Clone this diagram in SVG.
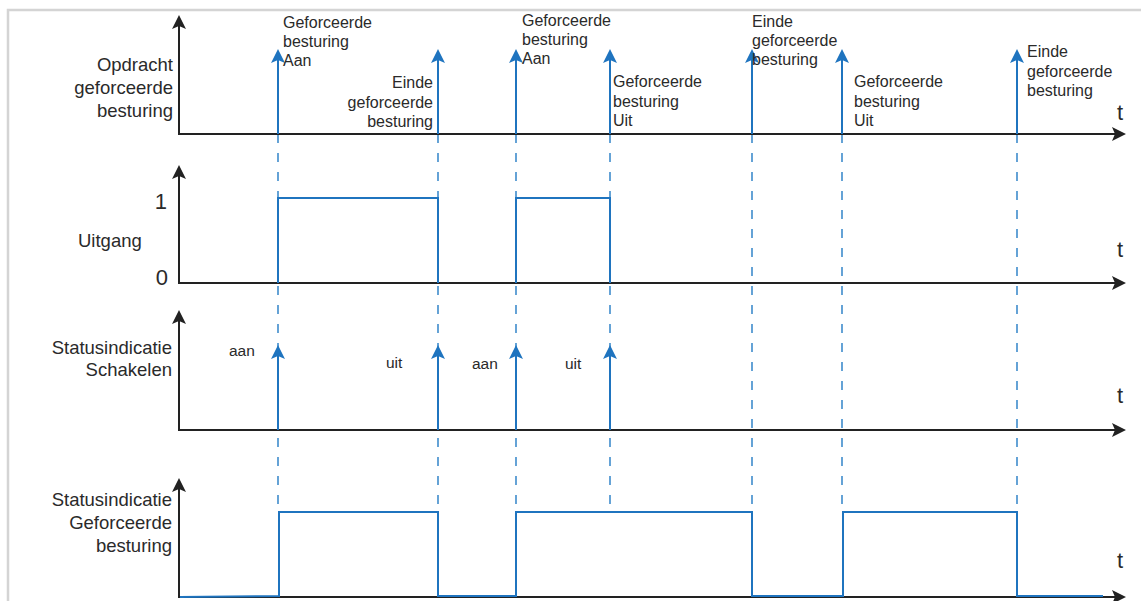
<svg xmlns="http://www.w3.org/2000/svg" width="1141" height="601" viewBox="0 0 1141 601">
<style>
text{font-family:"Liberation Sans",Arial,sans-serif;fill:#2a2a2a}
.lbl{font-size:18.5px}
.ev{font-size:16px}
.sm{font-size:15.5px}
.t{font-size:22px}
.num{font-size:22px}
.axis{stroke:#222;stroke-width:2;fill:none}
.sig{stroke:#1f74bf;stroke-width:2;fill:none}
.dash{stroke:#2a7fc6;stroke-width:1.6;stroke-dasharray:9 10;fill:none;opacity:0.9}
.ah{fill:#222}
.bh{fill:#1f74bf}
</style>
<defs>
<path id="up" d="M0,0 L7,14 L0,11 L-7,14 Z"/>
<path id="right" d="M0,0 L-14,7 L-11,0 L-14,-7 Z"/>
</defs>
<rect x="8" y="10" width="1200" height="700" fill="#fff" stroke="#d4d4d4" stroke-width="2.5"/>

<g id="connectors">
<g id="guides">
<line class="dash" x1="278" y1="134" x2="278" y2="512"/>
<line class="dash" x1="438" y1="134" x2="438" y2="512"/>
<line class="dash" x1="516" y1="134" x2="516" y2="512"/>
<line class="dash" x1="610" y1="134" x2="610" y2="512"/>
<line class="dash" x1="752" y1="134" x2="752" y2="512"/>
<line class="dash" x1="842" y1="134" x2="842" y2="512"/>
<line class="dash" x1="1017" y1="134" x2="1017" y2="512"/>
</g>
<g id="axes">
<line class="axis" x1="179" y1="20" x2="179" y2="134"/>
<line class="axis" x1="178" y1="134" x2="1115" y2="134"/>
<use href="#up" class="ah" x="179" y="15"/>
<use href="#right" class="ah" x="1126" y="134"/>
<line class="axis" x1="179" y1="170" x2="179" y2="283"/>
<line class="axis" x1="178" y1="283" x2="1115" y2="283"/>
<use href="#up" class="ah" x="179" y="165"/>
<use href="#right" class="ah" x="1126" y="283"/>
<line class="axis" x1="179" y1="315" x2="179" y2="430"/>
<line class="axis" x1="178" y1="430" x2="1115" y2="430"/>
<use href="#up" class="ah" x="179" y="310"/>
<use href="#right" class="ah" x="1126" y="430"/>
<line class="axis" x1="179" y1="483" x2="179" y2="597"/>
<line class="axis" x1="178" y1="597" x2="1115" y2="597"/>
<use href="#up" class="ah" x="179" y="478"/>
<use href="#right" class="ah" x="1126" y="597"/>
</g>
<g id="command-pulses">
<line class="sig" x1="278" y1="134" x2="278" y2="60"/>
<line class="sig" x1="438" y1="134" x2="438" y2="60"/>
<line class="sig" x1="516" y1="134" x2="516" y2="60"/>
<line class="sig" x1="610" y1="134" x2="610" y2="60"/>
<line class="sig" x1="752" y1="134" x2="752" y2="60"/>
<line class="sig" x1="842" y1="134" x2="842" y2="60"/>
<line class="sig" x1="1017" y1="134" x2="1017" y2="60"/>
<use href="#up" class="bh" x="278" y="49"/>
<use href="#up" class="bh" x="438" y="49"/>
<use href="#up" class="bh" x="516" y="49"/>
<use href="#up" class="bh" x="610" y="49"/>
<use href="#up" class="bh" x="752" y="49"/>
<use href="#up" class="bh" x="842" y="49"/>
<use href="#up" class="bh" x="1017" y="49"/>
</g>
<g id="output-signal">
<path class="sig" d="M278,283 L278,198 L438,198 L438,283 M516,283 L516,198 L610,198 L610,283"/>
</g>
<g id="switch-pulses">
<line class="sig" x1="278" y1="430" x2="278" y2="356"/>
<line class="sig" x1="438" y1="430" x2="438" y2="356"/>
<line class="sig" x1="516" y1="430" x2="516" y2="356"/>
<line class="sig" x1="610" y1="430" x2="610" y2="356"/>
<use href="#up" class="bh" x="278" y="345"/>
<use href="#up" class="bh" x="438" y="345"/>
<use href="#up" class="bh" x="516" y="345"/>
<use href="#up" class="bh" x="610" y="345"/>
</g>
<g id="forced-status-signal">
<path class="sig" d="M180,597 L279,596 L279,512 L438,512 L438,596 L516,596 L516,512 L752,512 L752,596 L843,596 L843,512 L1017,512 L1017,596 L1103,596"/>
</g>
</g>

<g id="panel-command">
<text class="lbl" text-anchor="end" x="173" y="71">Opdracht</text>
<text class="lbl" text-anchor="end" x="173" y="94">geforceerde</text>
<text class="lbl" text-anchor="end" x="173" y="117">besturing</text>
<text class="t" x="1117" y="120">t</text>
</g>
<g id="event-1"><text class="ev" x="283" y="28">Geforceerde</text><text class="ev" x="283" y="47">besturing</text><text class="ev" x="283" y="66">Aan</text></g>
<g id="event-2"><text class="ev" text-anchor="end" x="433" y="88">Einde</text><text class="ev" text-anchor="end" x="433" y="108">geforceerde</text><text class="ev" text-anchor="end" x="433" y="127">besturing</text></g>
<g id="event-3"><text class="ev" x="522" y="26">Geforceerde</text><text class="ev" x="522" y="45">besturing</text><text class="ev" x="522" y="64">Aan</text></g>
<g id="event-4"><text class="ev" x="613" y="87">Geforceerde</text><text class="ev" x="613" y="107">besturing</text><text class="ev" x="613" y="126">Uit</text></g>
<g id="event-5"><text class="ev" x="752" y="27">Einde</text><text class="ev" x="752" y="46">geforceerde</text><text class="ev" x="752" y="65">besturing</text></g>
<g id="event-6"><text class="ev" x="854" y="87">Geforceerde</text><text class="ev" x="854" y="107">besturing</text><text class="ev" x="854" y="126">Uit</text></g>
<g id="event-7"><text class="ev" x="1027" y="57">Einde</text><text class="ev" x="1027" y="77">geforceerde</text><text class="ev" x="1027" y="96">besturing</text></g>

<g id="panel-output">
<text class="lbl" x="78" y="247">Uitgang</text>
<text class="num" text-anchor="end" x="167" y="209">1</text>
<text class="num" text-anchor="end" x="168" y="285">0</text>
<text class="t" x="1117" y="257">t</text>
</g>
<g id="panel-switch">
<text class="lbl" text-anchor="end" x="172" y="354">Statusindicatie</text>
<text class="lbl" text-anchor="end" x="172" y="376">Schakelen</text>
<text class="sm" x="229" y="356">aan</text>
<text class="sm" x="386" y="368">uit</text>
<text class="sm" x="472" y="369">aan</text>
<text class="sm" x="565" y="369">uit</text>
<text class="t" x="1117" y="403">t</text>
</g>
<g id="panel-forced-status">
<text class="lbl" text-anchor="end" x="172" y="506">Statusindicatie</text>
<text class="lbl" text-anchor="end" x="172" y="529">Geforceerde</text>
<text class="lbl" text-anchor="end" x="172" y="552">besturing</text>
<text class="t" x="1117" y="568">t</text>
</g>
</svg>
